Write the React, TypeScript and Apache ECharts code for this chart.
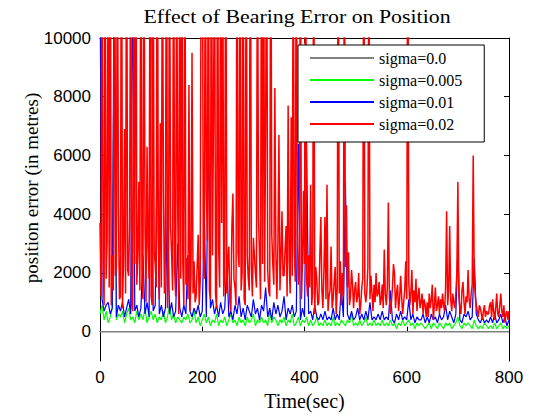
import React, { useEffect, useRef } from "react";
import * as echarts from "echarts";

// sample spacing of the recorded series (seconds)
const LOW_SIGMA_STEP = 4;
const HIGH_SIGMA_STEP = 2;

const sigma00Times = [0, 800];
const sigma00Values = [0, 0];

const sigma005Values = [
  600, 900, 400, 700, 300, 500, 800, 11000, 400, 600,
  500, 700, 300, 600, 800, 400, 500, 300, 700, 400,
  600, 400, 800, 300, 500, 700, 400, 600, 300, 500,
  400, 700, 300, 500, 900, 400, 600, 300, 500, 400,
  300, 500, 400, 600, 300, 400, 700, 300, 500, 200,
  400, 600, 300, 500, 200, 400, 300, 600, 200, 400,
  300, 500, 200, 400, 600, 300, 400, 200, 500, 300,
  400, 200, 500, 300, 400, 600, 200, 400, 300, 500,
  300, 400, 200, 700, 300, 500, 400, 200, 400, 300,
  500, 200, 400, 300, 600, 200, 300, 500, 200, 400,
  300, 500, 200, 400, 200, 300, 500, 200, 300, 200,
  400, 200, 300, 200, 500, 200, 300, 200, 400, 300,
  200, 400, 300, 600, 200, 300, 200, 400, 200, 300,
  500, 200, 300, 200, 400, 200, 300, 200, 400, 200,
  300, 200, 400, 200, 300, 100, 300, 200, 400, 200,
  300, 400, 200, 300, 100, 300, 200, 300, 200, 100,
  200, 300, 100, 300, 200, 100, 300, 200, 100, 300,
  200, 300, 100, 200, 300, 500, 200, 100, 300, 200,
  300, 200, 100, 400, 200, 100, 200, 100, 300, 200,
  100, 200, 100, 300, 100, 200, 300, 100, 200, 100, 200,
];

const sigma01Values = [
  12000, 1100, 700, 900, 1000, 600, 800, 14000, 500, 900,
  700, 1000, 500, 800, 1100, 600, 13000, 700, 900, 500,
  800, 2600, 600, 1000, 500, 16000, 700, 900, 6600, 600,
  900, 500, 800, 4400, 600, 1000, 500, 700, 3000, 800,
  500, 900, 600, 2600, 700, 500, 800, 600, 900, 500,
  700, 3900, 500, 7300, 800, 1100, 600, 900, 500, 1000,
  600, 800, 2400, 500, 700, 400, 900, 600, 1200, 500,
  800, 400, 900, 700, 500, 1100, 600, 800, 400, 900,
  700, 1500, 500, 800, 400, 1000, 600, 900, 500, 700,
  1200, 400, 800, 600, 900, 500, 700, 6400, 400, 800,
  500, 6500, 600, 700, 400, 900, 500, 400, 600, 400,
  700, 400, 500, 400, 800, 400, 600, 400, 1500, 500,
  5100, 600, 400, 700, 400, 500, 800, 400, 600, 400,
  700, 400, 1000, 400, 500, 400, 600, 400, 700, 400,
  500, 400, 1400, 400, 300, 600, 400, 700, 400, 500,
  400, 1100, 400, 600, 300, 500, 400, 400, 600, 300,
  500, 300, 600, 400, 500, 300, 600, 400, 500, 900,
  400, 700, 500, 300, 600, 2800, 400, 300, 600, 500,
  700, 400, 500, 2500, 600, 400, 300, 500, 300, 400,
  300, 500, 300, 600, 300, 400, 600, 300, 500, 200, 400,
];

const sigma02Values = [
  3700, 1200, 16000, 2500, 900, 15000, 1800, 3100, 14000, 1500, 17000, 900, 2600, 1400, 16000, 1900, 2200, 15000, 4300, 1100,
  1200, 18000, 800, 2400, 6900, 1300, 16500, 2100, 1900, 3800, 15000, 900, 700, 14000, 2300, 19000, 1600, 2600, 5100, 1400,
  17000, 2200, 1100, 15000, 3500, 1000, 6300, 2900, 1800, 16000, 1200, 900, 14500, 2700, 2300, 1500, 18000, 3400, 1100, 7100,
  1500, 15000, 5200, 1300, 2800, 17000, 800, 2000, 15000, 3600, 2700, 1400, 16000, 2100, 1200, 14000, 4200, 600, 15500, 1800,
  16000, 2300, 900, 15000, 1600, 2500, 1100, 8400, 700, 1900, 9500, 1300, 2400, 1000, 1200, 2200, 3300, 900, 1700, 15000,
  17000, 2600, 1800, 15500, 4800, 3100, 16000, 1400, 1100, 18000, 2600, 7200, 14500, 1300, 800, 16500, 2900, 1500, 15000, 3700,
  15000, 1200, 2100, 16000, 1300, 2400, 2900, 1000, 700, 3600, 4700, 1800, 1500, 900, 15000, 2700, 2200, 16000, 1400, 2000,
  16000, 1100, 900, 15500, 2600, 1800, 1400, 17000, 2300, 1200, 3200, 2600, 2000, 1500, 15000, 3900, 2600, 1100, 16000, 2300,
  16000, 1700, 6900, 15000, 2100, 1400, 1200, 17000, 3300, 2300, 1600, 8300, 2700, 1100, 3000, 6700, 1400, 2500, 4100, 1900,
  1900, 2800, 3600, 1200, 7700, 2400, 1300, 7300, 1900, 15000, 2800, 1700, 16000, 3400, 1600, 2100, 15500, 1100, 2300, 4800,
  2300, 17000, 1800, 1200, 2600, 1500, 5000, 900, 1300, 16000, 600, 2200, 1800, 900, 1000, 2600, 3900, 1400, 800, 2100,
  3900, 1100, 5000, 700, 1200, 1400, 2900, 800, 1100, 1700, 2200, 600, 1500, 16000, 1300, 2400, 900, 2000, 1200, 15000,
  2200, 4300, 1500, 2700, 900, 1200, 2100, 1600, 800, 1400, 1700, 1000, 1200, 2000, 600, 900, 1500, 1800, 16000, 1300,
  1000, 1400, 2200, 15000, 1100, 1900, 1300, 700, 1600, 1000, 2000, 1200, 1300, 1700, 900, 1100, 1600, 800, 2800, 1300,
  900, 1500, 4400, 1200, 600, 1000, 1500, 2300, 2000, 800, 1300, 1600, 700, 1100, 1900, 1200, 600, 1000, 1400, 2400,
  1100, 16000, 1700, 900, 1300, 2100, 600, 1400, 1000, 1800, 700, 1200, 1500, 800, 1000, 1300, 600, 1100, 900, 500,
  1000, 500, 1300, 800, 1100, 1600, 400, 900, 1500, 700, 900, 1200, 600, 1100, 800, 1300, 900, 700, 1500, 4100,
  900, 1400, 3600, 1100, 700, 1300, 1000, 800, 1300, 2000, 5100, 1200, 800, 600, 1400, 1700, 1000, 600, 1200, 1000,
  2100, 1100, 800, 1300, 1600, 6000, 1900, 1200, 900, 700, 500, 900, 800, 600, 400, 700, 900, 500, 700, 600,
  600, 900, 1000, 500, 1100, 700, 400, 800, 1300, 600, 500, 900, 1300, 700, 500, 900, 300, 600, 700, 400,
  700,
];

const xTicks = [0, 200, 400, 600, 800];
const yTicks = [0, 2000, 4000, 6000, 8000, 10000];

const legendNames = ["sigma=0.0", "sigma=0.005", "sigma=0.01", "sigma=0.02"];
const titleText = "Effect of Bearing Error on Position";
const yAxisTitle = "position error (in metres)";

const pair = (vals: number[], step: number) => vals.map((v, i) => [i * step, v]);

export default function App() {
  const ref = useRef<HTMLDivElement>(null);
  useEffect(() => {
    if (!ref.current) return;
    const chart = echarts.init(ref.current, null, { renderer: "svg" });
    const serif = "'Liberation Serif', serif";
    const sans = "'Liberation Sans', sans-serif";
    const lineSeries = (name: string, data: number[][], color: string, width: number) => ({
      name,
      type: "line",
      data,
      showSymbol: false,
      symbol: "none",
      clip: true,
      lineStyle: { color, width },
      itemStyle: { color },
      emphasis: { disabled: true },
    });
    const serifText = { fontFamily: serif, fontSize: 16, color: "#000", fontWeight: "normal" };
    chart.setOption({
      animation: false,
      backgroundColor: "#fff",
      textStyle: { fontFamily: serif },
      graphic: [
        {
          type: "text",
          x: 297,
          y: 17,
          scaleX: 1.15,
          z: 10,
          style: {
            text: titleText,
            fontFamily: serif,
            fontSize: 19,
            fill: "#000",
            textAlign: "center",
            textVerticalAlign: "middle",
          },
        },
        {
          type: "text",
          x: 31,
          y: 188,
          rotation: Math.PI / 2,
          z: 10,
          style: {
            text: yAxisTitle,
            fontFamily: serif,
            fontSize: 19,
            fill: "#000",
            textAlign: "center",
            textVerticalAlign: "middle",
          },
        },
      ],
      grid: { left: 100, right: 26, top: 38, bottom: 51, containLabel: false },
      legend: {
        left: 298,
        top: 45,
        orient: "vertical",
        backgroundColor: "#fff",
        borderColor: "#000",
        borderWidth: 1,
        padding: [5, 22, 10, 12],
        itemGap: 6,
        itemWidth: 64,
        itemHeight: 2,
        icon: "rect",
        data: legendNames.map((name) => ({ name, textStyle: serifText })),
        textStyle: serifText,
      },
      xAxis: [
        {
          type: "value",
          min: 0,
          max: 800,
          interval: 200,
          name: "Time(sec)",
          nameLocation: "middle",
          nameGap: 30,
          nameTextStyle: { fontFamily: serif, fontSize: 20, color: "#000" },
          axisLine: { lineStyle: { color: "#000" } },
          axisTick: { inside: true, length: 5, lineStyle: { color: "#000" }, customValues: xTicks },
          axisLabel: {
            fontFamily: sans,
            fontSize: 17,
            color: "#000",
            margin: 8,
            customValues: xTicks,
            formatter: (v: number) => String(v),
          },
          splitLine: { show: false },
        },
        {
          type: "value",
          position: "top",
          min: 0,
          max: 800,
          interval: 200,
          axisLine: { show: true, onZero: false, lineStyle: { color: "#000" } },
          axisTick: { inside: true, length: 5, lineStyle: { color: "#000" } },
          axisLabel: { show: false },
          splitLine: { show: false },
        },
      ],
      yAxis: [
        {
          type: "value",
          min: -1000,
          max: 10000,
          axisLine: { show: true, onZero: false, lineStyle: { color: "#000" } },
          axisTick: { show: true, inside: true, length: 5, lineStyle: { color: "#000" }, customValues: yTicks },
          axisLabel: {
            fontFamily: sans,
            fontSize: 17,
            color: "#000",
            margin: 9,
            customValues: yTicks,
            formatter: (v: number) => String(v),
          },
          splitLine: { show: false },
        },
        {
          type: "value",
          position: "right",
          min: -1000,
          max: 10000,
          axisLine: { show: true, onZero: false, lineStyle: { color: "#000" } },
          axisTick: { show: true, inside: true, length: 5, lineStyle: { color: "#000" }, customValues: yTicks },
          axisLabel: { show: false },
          splitLine: { show: false },
        },
      ],
      series: [
        lineSeries(legendNames[0], sigma00Times.map((t, i) => [t, sigma00Values[i]]), "#808080", 1.5),
        lineSeries(legendNames[1], pair(sigma005Values, LOW_SIGMA_STEP), "#00ff00", 1.2),
        lineSeries(legendNames[2], pair(sigma01Values, LOW_SIGMA_STEP), "#0000ff", 1.2),
        lineSeries(legendNames[3], pair(sigma02Values, HIGH_SIGMA_STEP), "#ff0000", 1.5),
      ],
    });
    return () => chart.dispose();
  }, []);
  return <div ref={ref} style={{ width: 535, height: 416, position: "absolute", left: 0, top: 0 }} />;
}
